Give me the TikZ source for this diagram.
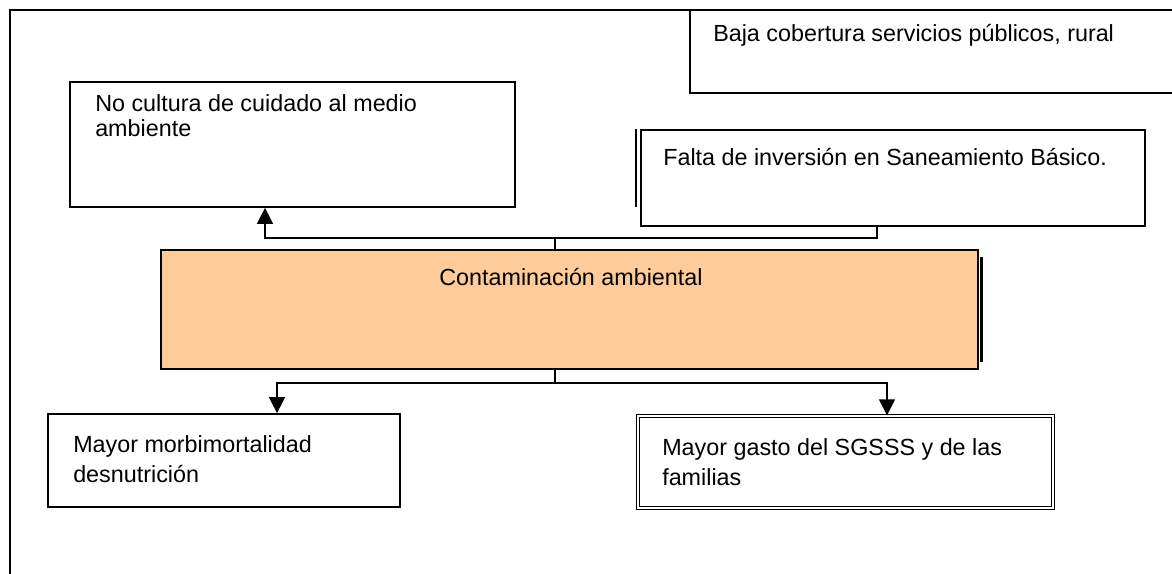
\documentclass[tikz,border=0pt]{standalone}
\usepackage{fontspec}
\setmainfont{Liberation Sans}
\usetikzlibrary{arrows.meta}

\definecolor{naranja}{RGB}{255,204,153}

\begin{document}
\begin{tikzpicture}[x=0.75pt,y=-0.75pt,
  caja/.style={draw,line width=1.3pt,inner sep=0pt},
  texto/.style={anchor=base west,align=left,inner sep=0pt,font=\fontsize{17.5}{22}\selectfont},
  linea/.style={line width=1.1pt},
  flecha/.style={linea,-{Triangle[width=12pt,length=12pt]}}]
\useasboundingbox (0,0) rectangle (1172,574);
\fill[white] (0,0) rectangle (1172,574);
% marco
\draw[line width=1.5pt] (1190,10) -- (10,10) -- (10,590);
% cajas
\node[caja,minimum width=375pt,minimum height=62.25pt] (baja) at (940,51.5) {};
\node[caja,minimum width=333.75pt,minimum height=93.75pt] (cultura) at (292.5,144.5) {};
\node[caja,minimum width=378pt,minimum height=72pt] (falta) at (893,178) {};
\node[caja,fill=naranja,minimum width=612.75pt,minimum height=89.25pt] (contam) at (569.5,309.5) {};
\node[caja,minimum width=264pt,minimum height=69.75pt] (morbi) at (224,460.5) {};
\node[caja,line width=1pt,double,double distance=1.7pt,minimum width=311.25pt,minimum height=69pt] (gasto) at (845.5,462) {};
% sombras
\draw[line width=1.4pt] (falta.north west) ++(-4,0) -- ++(0,78);
\draw[line width=2.2pt] (contam.north east) ++(3,8) -- ++(0,105);
% textos (base = ultima linea)
\node[texto] (tbaja) at (713,42) {Baja cobertura servicios públicos, rural};
\node[texto,font=\fontsize{17.5}{19}\selectfont] (tcult) at (95,137) {No cultura de cuidado al medio\\ambiente};
\node[texto] (tfalta) at (663,166) {Falta de inversión en Saneamiento Básico.};
\node[texto,anchor=base] (tcont) at (571,286) {Contaminación ambiental};
\node[texto] (tmorbi) at (73,482) {Mayor morbimortalidad\\desnutrición};
\node[texto] (tgasto) at (662,485) {Mayor gasto del SGSSS y de las\\familias};
% conectores
\coordinate (xa) at (265,0);
\coordinate (xb) at (877,0);
\coordinate (xc) at (555,0);
\coordinate (xd) at (277,0);
\coordinate (xe) at (887,0);
\coordinate (ya) at (0,238);
\coordinate (yb) at (0,383);
\draw[linea] (falta.south -| xb) |- (ya -| xc);
\draw[flecha] (contam.north -| xc) -- (ya -| xc) -| (cultura.south -| xa);
\draw[linea] (contam.south -| xc) -- (yb -| xc);
\draw[flecha] (yb -| xc) -| (morbi.north -| xd);
\draw[flecha] (yb -| xc) -| (gasto.north -| xe);
\end{tikzpicture}
\end{document}
